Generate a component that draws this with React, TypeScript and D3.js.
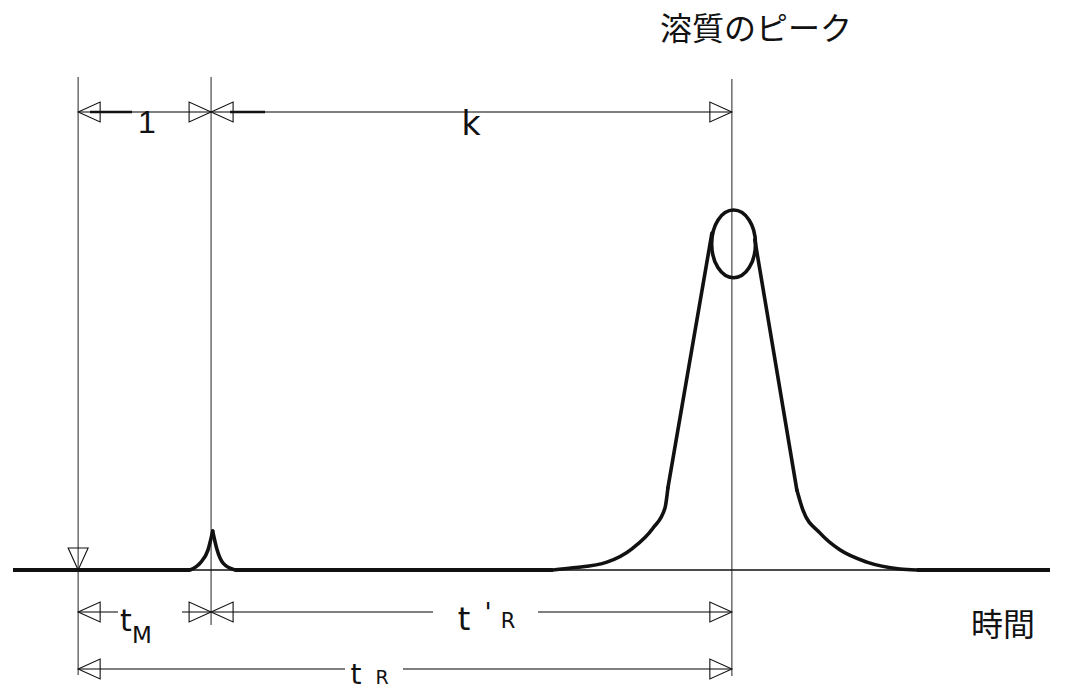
import React from "react";
import * as d3 from "d3";

// time axis in units of t_M (injection at 0, dead peak at 1)
const timeDomain = [-0.49, 7.31];
const tM = 1;
const tR = 4.917;

// detector signal, 0 = baseline, 100 = top of the solute peak
const deadPeakLeft = [[0.842, 0], [0.917, 1.9], [0.977, 5.6], [1.012, 10.8]];
const deadPeakRight = [[1.012, 10.8], [1.045, 5.6], [1.09, 1.9], [1.18, 0]];

const soluteTailLeft = [[3.571, 0], [3.722, 0.6], [3.977, 2.2], [4.173, 6.1], [4.323, 11.6], [4.414, 17.2], [4.436, 22.8]];
const soluteFrontLeft = [[4.436, 22.8], [4.767, 93.6]];
const soluteFrontRight = [[5.09, 91.7], [5.406, 22.2]];
const soluteTailRight = [[5.406, 22.2], [5.451, 16.7], [5.579, 10.3], [5.729, 5.6], [5.932, 2.2], [6.18, 0.3], [6.308, 0]];

// the loop at the apex
const apex = { t: 4.93, s: 90.6, dt: 0.165, ds: 9.4 };

const flatParts = [[-0.49, 0.842], [1.18, 3.571], [6.308, 7.31]];

const width = 1066;
const height = 691;

const x = d3.scaleLinear().domain(timeDomain).range([13, 1050]);
const y = d3.scaleLinear().domain([0, 100]).range([570, 210]);

const curve = d3.line().x(d => x(d[0])).y(d => y(d[1])).curve(d3.curveMonotoneX);
const straight = d3.line().x(d => x(d[0])).y(d => y(d[1]));

const jp = "'Noto Sans CJK JP', sans-serif";
const sans = "'DejaVu Sans', sans-serif";
const dim = "#555";

const Head = ({ tipX, tipY, dir, vertical = false }) => {
  const len = 22, half = 10;
  const pts = vertical
    ? [[tipX, tipY], [tipX - half, tipY - len], [tipX + half, tipY - len]]
    : [[tipX, tipY], [tipX - dir * len, tipY - half], [tipX - dir * len, tipY + half]];
  return <polygon points={pts.map(p => p.join(",")).join(" ")} fill="none" stroke="#111" strokeWidth={1.1} />;
};

// dimension line between two times, with optional gap (pixels) for the label
const Dim = ({ from, to, yy, gap = null }) => {
  const x0 = x(from), x1 = x(to);
  const segs = gap ? [[x0, gap[0]], [gap[1], x1]] : [[x0, x1]];
  return (
    <g>
      {segs.map((s, i) => (
        <line key={i} x1={s[0]} x2={s[1]} y1={yy} y2={yy} stroke={dim} strokeWidth={1.5} />
      ))}
      <Head tipX={x0} tipY={yy} dir={-1} />
      <Head tipX={x1} tipY={yy} dir={1} />
    </g>
  );
};

const App = () => {
  const x0 = x(0), x1 = x(tM), xr = x(tR);
  return (
    <svg width={width} height={height} style={{ position: "absolute", left: 0, top: 0, background: "#fff" }}>
      {/* vertical reference lines */}
      <line x1={x0} x2={x0} y1={77} y2={675} stroke={dim} strokeWidth={1.3} />
      <line x1={x1} x2={x1} y1={77} y2={625} stroke={dim} strokeWidth={1.3} />
      <line x1={xr} x2={xr} y1={79} y2={676} stroke={dim} strokeWidth={1.3} />

      {/* thin baseline */}
      <line x1={x(timeDomain[0])} x2={x(timeDomain[1])} y1={y(0)} y2={y(0)} stroke="#111" strokeWidth={1.4} />
      {flatParts.map((p, i) => (
        <line key={i} x1={x(p[0])} x2={x(p[1])} y1={y(0)} y2={y(0)} stroke="#111" strokeWidth={4} />
      ))}

      {/* injection mark */}
      <Head tipX={x0} tipY={y(0)} dir={1} vertical />

      {/* peaks */}
      <g fill="none" stroke="#111" strokeWidth={3.6} strokeLinecap="round">
        <path d={curve(deadPeakLeft)} />
        <path d={curve(deadPeakRight)} />
        <path d={curve(soluteTailLeft)} />
        <path d={straight(soluteFrontLeft)} />
        <path d={straight(soluteFrontRight)} />
        <path d={curve(soluteTailRight)} />
        <ellipse cx={x(apex.t)} cy={y(apex.s)} rx={x(apex.t + apex.dt) - x(apex.t)} ry={y(apex.s - apex.ds) - y(apex.s)} />
      </g>

      {/* top dimension: 1 and k */}
      <Dim from={0} to={tM} yy={112} />
      <Dim from={tM} to={tR} yy={112} />
      <line x1={90} x2={132} y1={112} y2={112} stroke="#111" strokeWidth={2.6} />
      <line x1={230} x2={265} y1={112} y2={112} stroke="#111" strokeWidth={2.6} />
      <text x={147} y={133} fontFamily="'Liberation Sans', sans-serif" fontSize={32} textAnchor="middle" fill="#111">1</text>
      <text x={471} y={135} fontFamily={sans} fontSize={33} textAnchor="middle" fill="#111">k</text>

      {/* bottom dimensions */}
      <Dim from={0} to={tM} yy={612} gap={[118, 182]} />
      <Dim from={tM} to={tR} yy={612} gap={[433, 538]} />
      <Dim from={0} to={tR} yy={669} gap={[345, 403]} />

      <text x={126} y={631} fontFamily={sans} fontSize={30} textAnchor="middle" fill="#111">t</text>
      <text x={142} y={643} fontFamily={sans} fontSize={23} textAnchor="middle" fill="#111">M</text>

      <text x={464} y={630} fontFamily={sans} fontSize={32} textAnchor="middle" fill="#111">t</text>
      <text x={488} y={622} fontFamily={sans} fontSize={26} textAnchor="middle" fill="#111">'</text>
      <text x={508} y={628} fontFamily={sans} fontSize={21} textAnchor="middle" fill="#111">R</text>

      <text x={356} y={684} fontFamily={sans} fontSize={28} textAnchor="middle" fill="#111">t</text>
      <text x={382} y={684} fontFamily={sans} fontSize={19} textAnchor="middle" fill="#111">R</text>

      <text x={660} y={40} fontFamily={jp} fontSize={32} fill="#111">溶質のピーク</text>
      <text x={971} y={636} fontFamily={jp} fontSize={32} fill="#111">時間</text>
    </svg>
  );
};

export default App;
